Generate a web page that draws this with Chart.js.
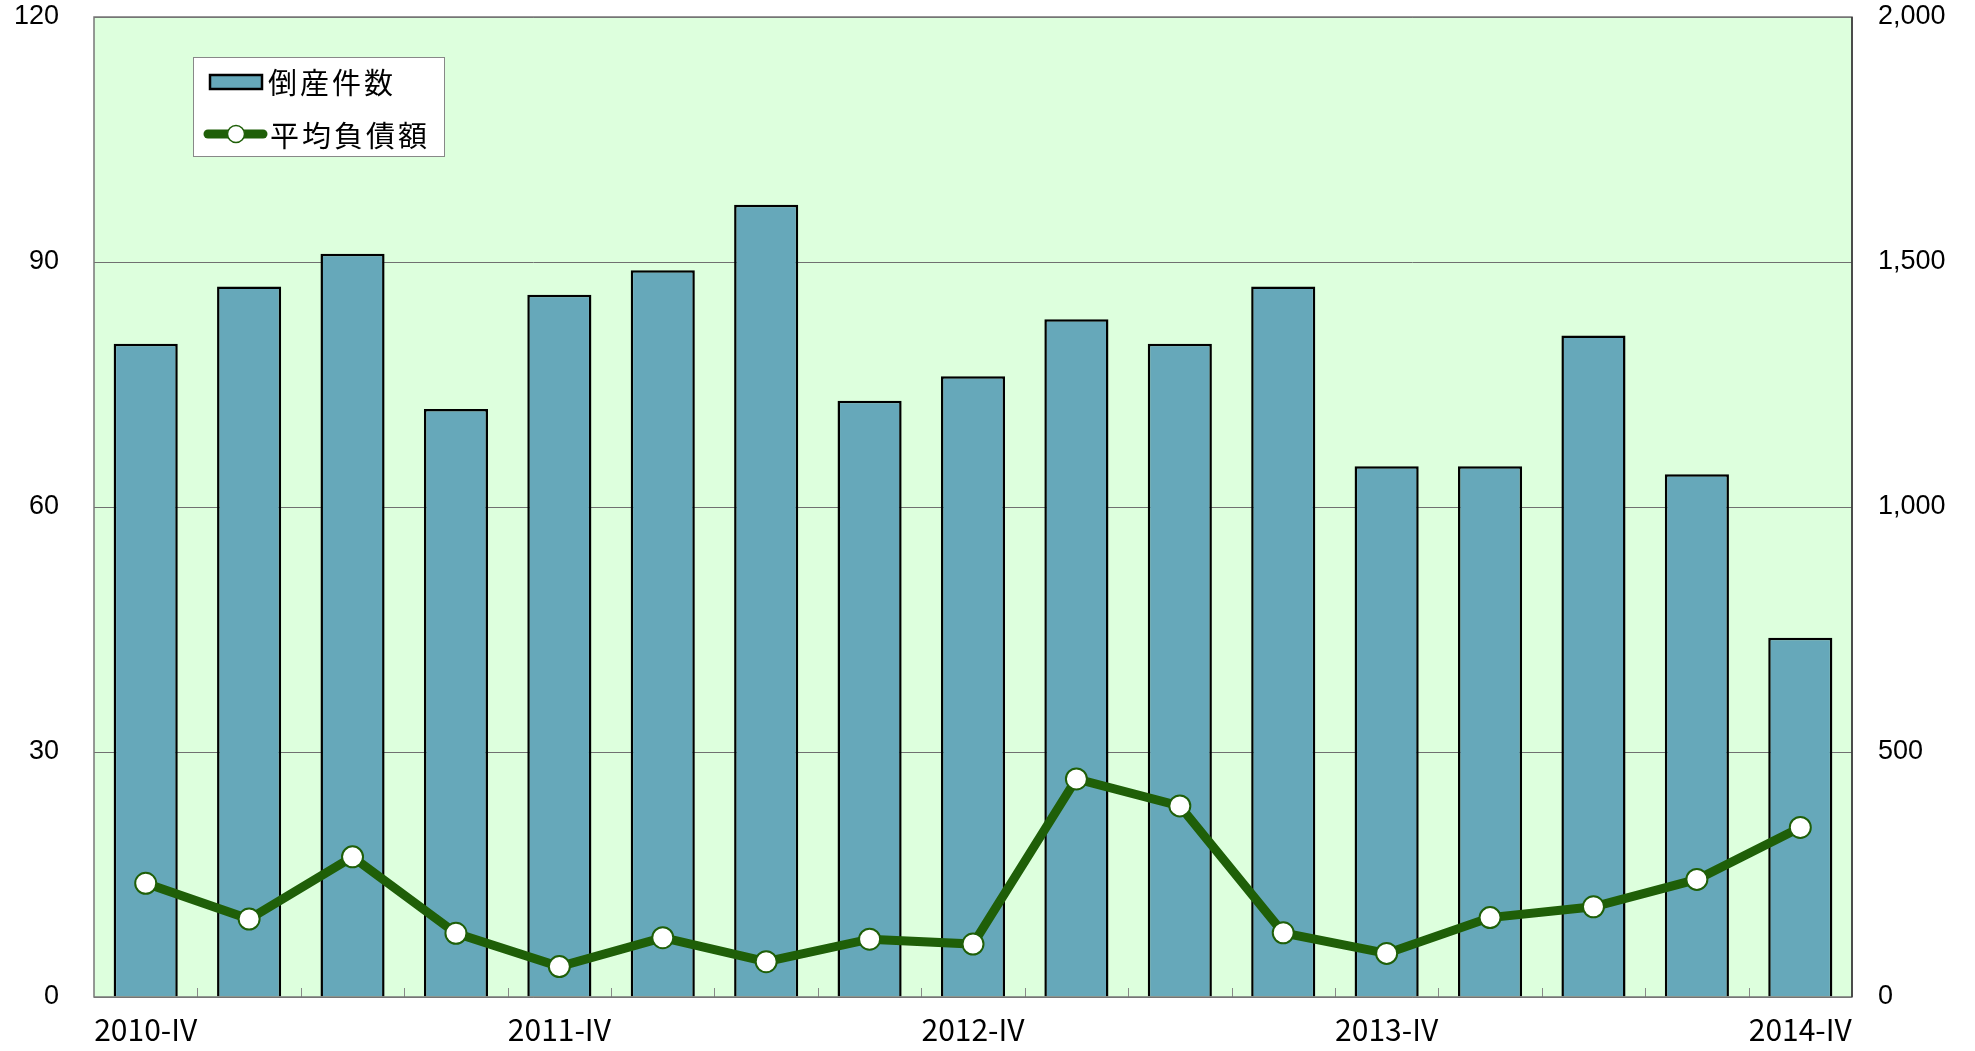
<!DOCTYPE html>
<html>
<head>
<meta charset="utf-8">
<script src="https://cdn.jsdelivr.net/npm/chart.js@4.4.1/dist/chart.umd.min.js"></script>
<style>
  html, body { margin: 0; padding: 0; background: #ffffff; }
  #wrap { width: 1975px; height: 1051px; }
</style>
</head>
<body>
<div id="wrap"><canvas id="chart"></canvas></div>
<script>
let quarters = ['2010-IV','2011-I','2011-II','2011-III','2011-IV','2012-I','2012-II','2012-III','2012-IV',
    '2013-I','2013-II','2013-III','2013-IV','2014-I','2014-II','2014-III','2014-IV'];
let bankruptcies = [80, 87, 91, 72, 86, 89, 97, 73, 76, 83, 80, 87, 65, 65, 81, 64, 44];
let avgDebt = [232, 159, 286, 130, 62, 121, 72, 118, 108, 445, 390, 131, 89, 162, 184, 240, 346];
let leftTicks = [0, 30, 60, 90, 120];
let rightTicks = [0, 500, 1000, 1500, 2000];

let barColor = '#66a8ba';
let lineColor = '#1f5f08';
let plotBg = '#ddffdd';

// plot background, boundary ticks, border and legend
let decorations = {
    id: 'decorations',
    beforeDraw(chart) {
        let a = chart.chartArea;
        let ctx = chart.ctx;
        ctx.save();
        ctx.fillStyle = plotBg;
        ctx.fillRect(a.left, a.top, a.right - a.left, a.bottom - a.top);
        ctx.restore();
    },
    afterDatasetsDraw(chart) {
        let a = chart.chartArea;
        let ctx = chart.ctx;
        let x = chart.scales.x;
        ctx.save();
        ctx.strokeStyle = '#888888';
        ctx.lineWidth = 1;
        for (let i = 0; i < quarters.length - 1; i++) {
            let px = Math.round((x.getPixelForTick(i) + x.getPixelForTick(i + 1)) / 2) + 0.5;
            ctx.beginPath();
            ctx.moveTo(px, a.bottom);
            ctx.lineTo(px, a.bottom - 9);
            ctx.stroke();
        }
        ctx.strokeStyle = '#777777';
        ctx.lineWidth = 1.5;
        ctx.strokeRect(a.left, a.top, a.right - a.left, a.bottom - a.top);
        ctx.strokeStyle = '#333333';
        ctx.beginPath();
        ctx.moveTo(a.right, a.top);
        ctx.lineTo(a.right, a.bottom);
        ctx.stroke();
        ctx.restore();
    },
    afterDraw(chart) {
        let ctx = chart.ctx;
        let ds = chart.data.datasets;
        ctx.save();
        ctx.fillStyle = '#ffffff';
        ctx.fillRect(193, 57, 251, 99);
        ctx.strokeStyle = '#888888';
        ctx.lineWidth = 1;
        ctx.strokeRect(193.5, 57.5, 251, 99);

        // bar swatch
        ctx.fillStyle = barColor;
        ctx.fillRect(210, 75, 52, 14);
        ctx.strokeStyle = '#000000';
        ctx.lineWidth = 2.5;
        ctx.strokeRect(210, 75, 52, 14);

        // line swatch
        ctx.strokeStyle = lineColor;
        ctx.lineWidth = 9;
        ctx.lineCap = 'round';
        ctx.beginPath();
        ctx.moveTo(208, 134);
        ctx.lineTo(263, 134);
        ctx.stroke();
        ctx.fillStyle = '#ffffff';
        ctx.lineWidth = 1.5;
        ctx.beginPath();
        ctx.arc(236, 134, 8.5, 0, Math.PI * 2);
        ctx.fill();
        ctx.stroke();

        ctx.fillStyle = '#000000';
        ctx.font = '29px "Noto Sans CJK JP"';
        ctx.textBaseline = 'middle';
        ctx.letterSpacing = '3px';
        ctx.fillText(ds[1].label, 268, 83);
        ctx.fillText(ds[0].label, 270, 136);
        ctx.restore();
    }
};

function noPad(scale) {
    scale.paddingTop = 0;
    scale.paddingBottom = 0;
}

let ctx = document.querySelector('#chart').getContext('2d');

let chart = new Chart(ctx, {
    type: 'bar',
    data: {
        labels: quarters,
        datasets: [{
            type: 'line',
            label: '平均負債額',
            data: avgDebt,
            yAxisID: 'y1',
            borderColor: lineColor,
            borderWidth: 9,
            pointRadius: 10.5,
            pointBorderWidth: 2,
            pointBackgroundColor: '#ffffff',
            pointBorderColor: lineColor,
            tension: 0,
            order: 0
        }, {
            type: 'bar',
            label: '倒産件数',
            data: bankruptcies,
            yAxisID: 'y',
            backgroundColor: barColor,
            borderColor: '#000000',
            borderWidth: 2.5,
            barPercentage: 0.62,
            categoryPercentage: 1,
            order: 1
        }]
    },
    options: {
        responsive: true,
        maintainAspectRatio: false,
        animation: false,
        layout: { padding: { top: 17, left: 0, right: 0, bottom: 0 } },
        plugins: {
            legend: { display: false },
            tooltip: { enabled: false }
        },
        scales: {
            x: {
                grid: { display: false, drawTicks: false },
                border: { display: false },
                ticks: {
                    autoSkip: false,
                    maxRotation: 0,
                    padding: 15,
                    color: '#000000',
                    font: { family: '"Noto Sans CJK JP"', size: 30 },
                    callback: function(value, index) {
                        return index % 4 === 0 ? quarters[index] : '';
                    }
                },
                afterFit: function(scale) { scale.height = 54; }
            },
            y: {
                position: 'left',
                min: 0,
                max: 120,
                afterBuildTicks: function(scale) {
                    scale.ticks = leftTicks.map(v => ({ value: v }));
                },
                grid: { color: '#707070', lineWidth: 1, drawTicks: false },
                border: { display: false },
                ticks: {
                    padding: 35,
                    color: '#000000',
                    font: { family: '"Liberation Sans"', size: 27 }
                },
                afterFit: function(scale) { scale.width = 94; noPad(scale); }
            },
            y1: {
                position: 'right',
                min: 0,
                max: 2000,
                afterBuildTicks: function(scale) {
                    scale.ticks = rightTicks.map(v => ({ value: v }));
                },
                grid: { display: false, drawTicks: false },
                border: { display: false },
                ticks: {
                    padding: 26,
                    color: '#000000',
                    font: { family: '"Liberation Sans"', size: 27 },
                    callback: function(value) { return value.toLocaleString('en-US'); }
                },
                afterFit: function(scale) { scale.width = 123; noPad(scale); }
            }
        }
    },
    plugins: [decorations]
});
</script>
</body>
</html>
